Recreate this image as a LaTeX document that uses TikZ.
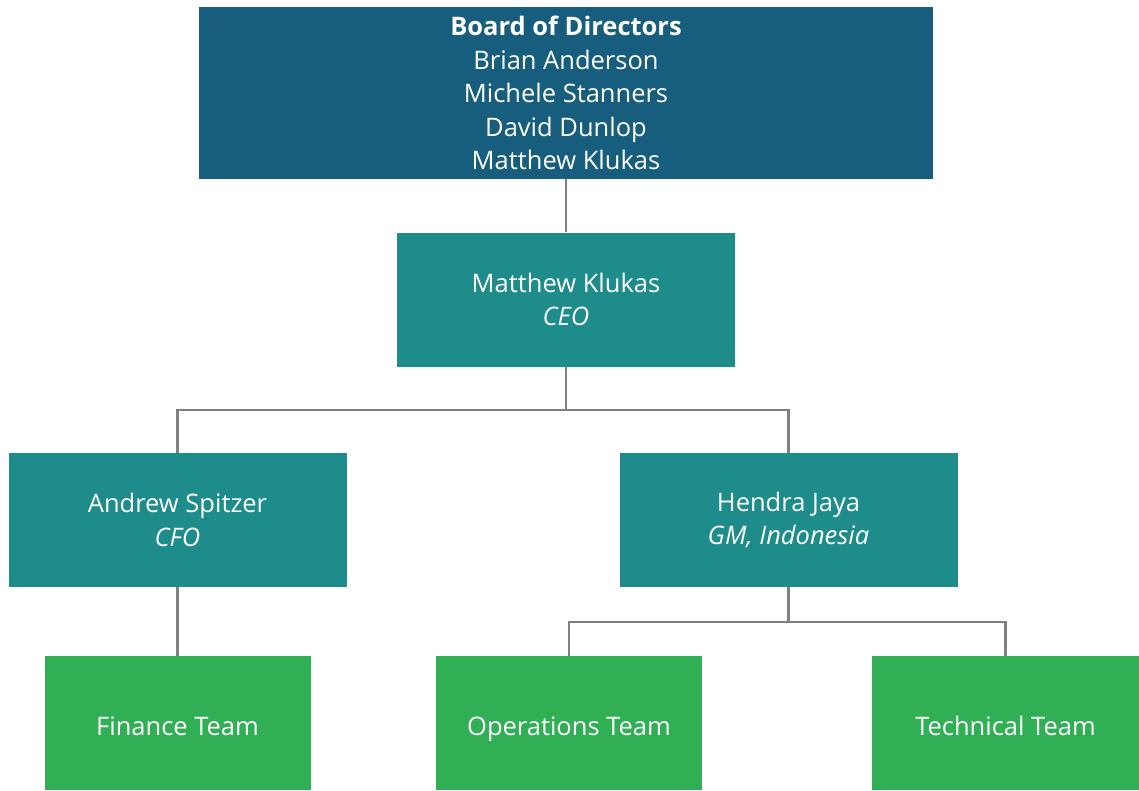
\documentclass[tikz,border=0pt]{standalone}
\usepackage{fontspec}
\setmainfont{Open Sans}
\definecolor{boardc}{HTML}{175E7E}
\definecolor{tealc}{HTML}{1E8C8A}
\definecolor{greenc}{HTML}{31AF55}
\definecolor{linec}{HTML}{808080}
\begin{document}
\begin{tikzpicture}[x=1pt,y=-1pt,
  box/.style={rectangle,inner sep=0pt,text=white,align=center,font=\fontsize{25.5}{33.5}\selectfont},
  boardbox/.style={box,fill=boardc,minimum width=734pt,minimum height=172pt},
  mgrbox/.style={box,fill=tealc,minimum width=338pt,minimum height=134pt},
  teambox/.style={box,fill=greenc,minimum width=266pt,minimum height=134pt,text height=26pt,text depth=1pt},
  conn/.style={draw=linec,line width=2.6pt}]
\useasboundingbox (0,0) rectangle (1139,790);
\node[boardbox] (board) at (566,93) {\textbf{Board of Directors}\\Brian Anderson\\Michele Stanners\\David Dunlop\\Matthew Klukas};
\node[mgrbox] (ceo) at (566,299.5) {Matthew Klukas\\\textit{CEO}};
\node[mgrbox] (cfo) at (177.5,520) {Andrew Spitzer\\\textit{CFO}};
\node[mgrbox] (gm) at (788.5,520) {Hendra Jaya\\\textit{GM, Indonesia}};
\node[teambox] (fin) at (177.5,723) {Finance Team};
\node[teambox] (ops) at (569,723) {Operations Team};
\node[teambox,minimum width=267pt] (tech) at (1005.5,723) {Technical Team};
\coordinate (ceoj) at (566,410);
\coordinate (gmj) at (788.5,622);
\draw[conn] (board.south) -- (ceo.north);
\draw[conn] (ceo.south) -- (ceoj) -| (cfo.north);
\draw[conn] (ceoj) -| (gm.north);
\draw[conn] (cfo.south) -- (fin.north);
\draw[conn] (gm.south) -- (gmj) -| (ops.north);
\draw[conn] (gmj) -| (tech.north);
\end{tikzpicture}
\end{document}
